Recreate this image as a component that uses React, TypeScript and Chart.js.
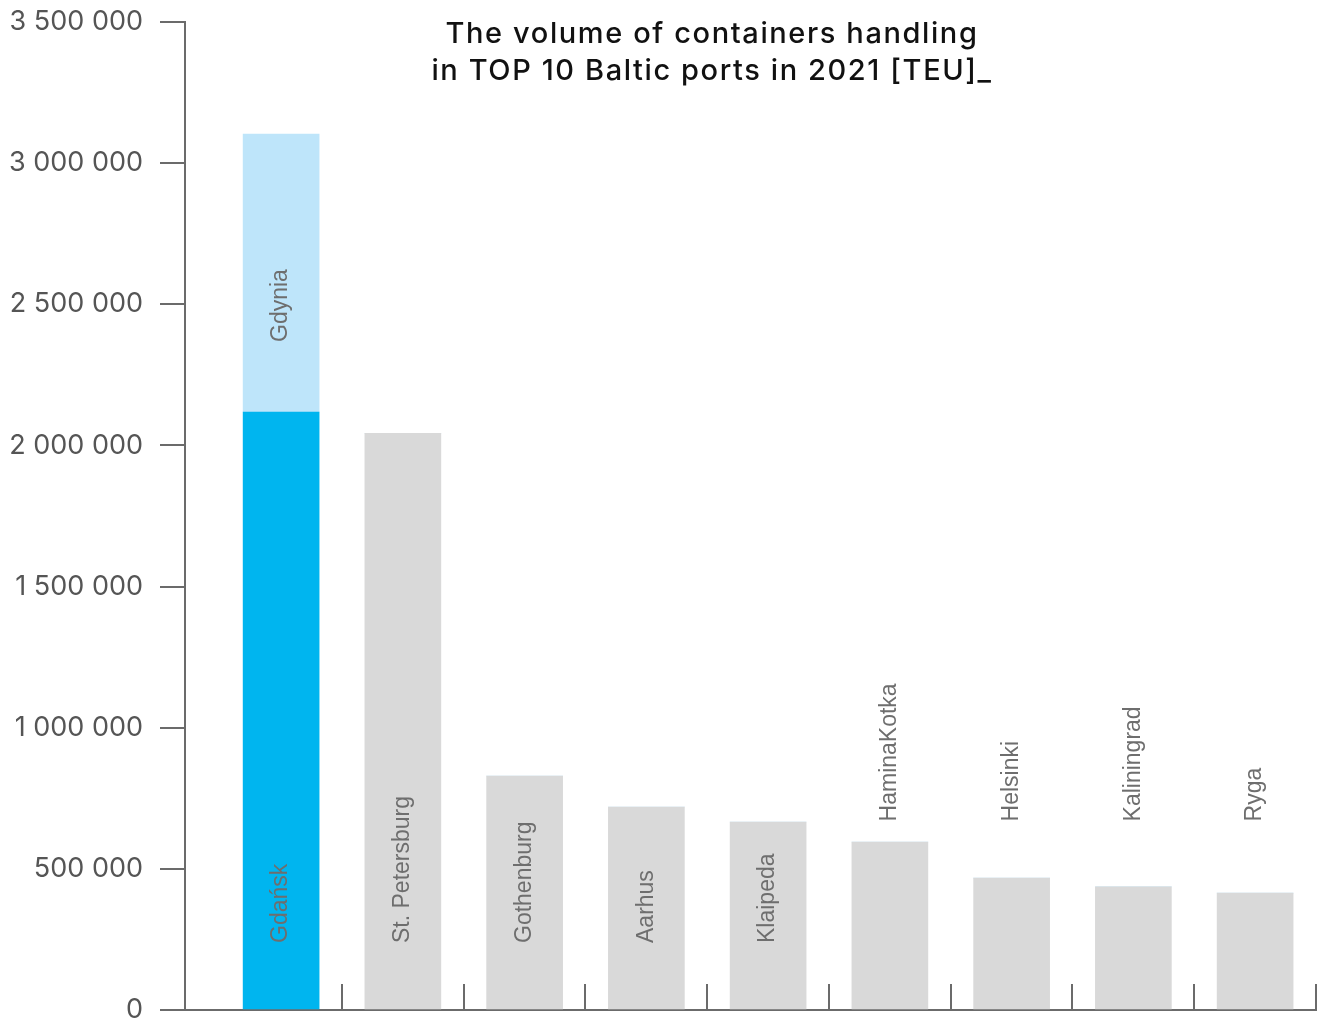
import { useEffect, useRef } from 'react';
import { Chart, registerables } from 'chart.js';

Chart.register(...registerables);

const PORTS = ['Gdańsk', 'St. Petersburg', 'Gothenburg', 'Aarhus', 'Klaipeda', 'HaminaKotka', 'Helsinki', 'Kaliningrad', 'Ryga'];
const BASE_TEU = [2118550, 2043000, 829000, 719000, 666000, 595000, 467000, 436000, 414000];
const GDYNIA_TEU = [984000, 0, 0, 0, 0, 0, 0, 0, 0];
const STACK_NAMES = ['Gdynia', '', '', '', '', '', '', '', ''];
const LABEL_PLACEMENT = ['inside', 'inside', 'inside', 'inside', 'inside', 'above', 'above', 'above', 'above'];
const ABOVE_LABEL_VALUE = 668000;
const Y_MAX = 3500000;
const Y_STEP = 500000;
const X_TICKS = [0.5, 1.5, 2.5, 3.5, 4.5, 5.5, 6.5, 7.5, 8.5];
const TITLE_LINES = ['The volume of containers handling', 'in TOP 10 Baltic ports in 2021 [TEU]_'];

const BLUE = '#00b5ef';
const LIGHT_BLUE = '#bee5fa';
const GREY = '#d9d9d9';
const AXIS = '#6b6b6b';

const labelsPlugin = {
  id: 'barLabels',
  afterDatasetsDraw(chart: any) {
    const ctx = chart.ctx;
    const yScale = chart.scales.y;
    const base = chart.getDatasetMeta(0).data;
    const top = chart.getDatasetMeta(1).data;
    ctx.save();
    ctx.font = '23px "Liberation Sans", Arial, sans-serif';
    ctx.fillStyle = '#6e6e6e';
    ctx.textAlign = 'left';
    ctx.textBaseline = 'middle';
    const draw = (text: string, x: number, y: number) => {
      ctx.save();
      ctx.translate(x, y);
      ctx.rotate(-Math.PI / 2);
      ctx.fillText(text, 0, 0);
      ctx.restore();
    };
    PORTS.forEach((name, i) => {
      const el = base[i];
      if (!el) return;
      const y = LABEL_PLACEMENT[i] === 'inside' ? el.base - 66 : yScale.getPixelForValue(ABOVE_LABEL_VALUE);
      draw(name, el.x, y);
      if (STACK_NAMES[i] && top[i]) {
        draw(STACK_NAMES[i], top[i].x, top[i].base - 70);
      }
    });
    ctx.restore();
  },
};

const titlePlugin = {
  id: 'customTitle',
  afterDraw(chart: any) {
    const ctx = chart.ctx;
    ctx.save();
    ctx.font = '500 29px Inter, "Noto Sans", sans-serif';
    (ctx as any).letterSpacing = '1.6px';
    ctx.fillStyle = '#111111';
    ctx.textAlign = 'center';
    ctx.textBaseline = 'middle';
    TITLE_LINES.forEach((line, i) => ctx.fillText(line, 712, 34 + i * 37));
    ctx.restore();
  },
};

export default function App() {
  const ref = useRef<HTMLCanvasElement | null>(null);
  useEffect(() => {
    document.body.style.margin = '0';
    const canvas = ref.current;
    if (!canvas) return;
    const chart = new Chart(canvas, {
      type: 'bar',
      data: {
        datasets: [
          {
            label: 'Ports',
            data: BASE_TEU.map((v, i) => ({ x: i, y: v })),
            backgroundColor: BASE_TEU.map((_, i) => (i === 0 ? BLUE : GREY)),
            borderWidth: 0,
            barThickness: 76,
          },
          {
            label: 'Gdynia',
            data: GDYNIA_TEU.map((v, i) => ({ x: i, y: v })),
            backgroundColor: LIGHT_BLUE,
            borderWidth: 0,
            barThickness: 76,
          },
        ],
      },
      options: {
        responsive: false,
        animation: false,
        layout: { padding: { top: 22, right: 4, left: 0, bottom: 0 } },
        plugins: { legend: { display: false }, tooltip: { enabled: false }, title: { display: false } },
        scales: {
          x: {
            type: 'linear',
            stacked: true,
            offset: false,
            min: -0.7895,
            max: 8.5,
            afterBuildTicks: (scale: any) => {
              scale.ticks = X_TICKS.map((v) => ({ value: v }));
            },
            afterFit: (scale: any) => {
              scale.height = 11;
              scale.paddingLeft = 0;
              scale.paddingRight = 0;
            },
            ticks: { display: false, autoSkip: false },
            grid: { offset: false, drawOnChartArea: false, drawTicks: true, tickLength: -26, color: AXIS, lineWidth: 2 },
            border: { display: true, color: AXIS, width: 2 },
          },
          y: {
            stacked: true,
            min: 0,
            max: Y_MAX,
            afterFit: (scale: any) => {
              scale.width = 185;
              scale.paddingTop = 0;
              scale.paddingBottom = 0;
            },
            ticks: {
              stepSize: Y_STEP,
              padding: 17,
              color: '#555555',
              font: { family: 'Inter, "Noto Sans", sans-serif', size: 27 },
              callback: (v: any) => Number(v).toLocaleString('en-US').replace(/,/g, ' '),
            },
            grid: { drawOnChartArea: false, drawTicks: true, tickLength: 25, color: AXIS, lineWidth: 2 },
            border: { display: true, color: AXIS, width: 2 },
          },
        },
      },
      plugins: [labelsPlugin, titlePlugin],
    } as any);
    return () => chart.destroy();
  }, []);
  return <canvas ref={ref} width={1320} height={1021} style={{ display: 'block' }} />;
}
